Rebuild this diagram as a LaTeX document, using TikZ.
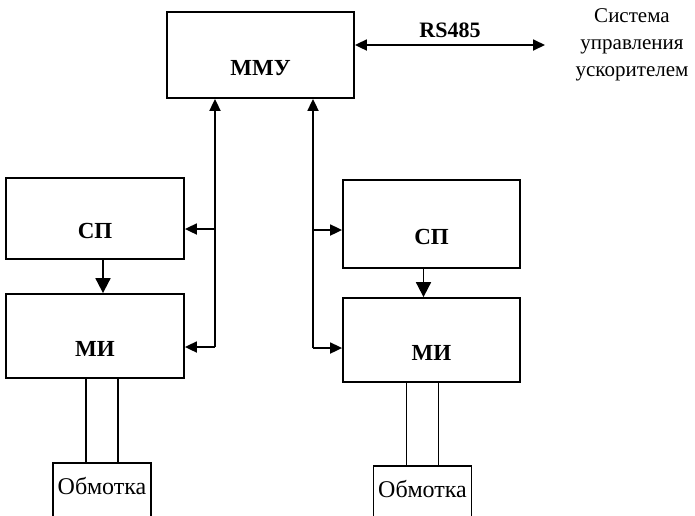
\documentclass[tikz,border=0pt]{standalone}
\usepackage{fontspec}
\setmainfont{Liberation Serif}
\usetikzlibrary{arrows.meta}

\tikzset{
  blk/.style={draw, line width=1.8pt, rectangle, font=\fontsize{23}{24}\selectfont\bfseries,
    text height=40pt, text depth=0pt},
  coil/.style={draw, line width=1.8pt, rectangle, minimum width=98pt, minimum height=60pt,
    font=\fontsize{24}{26}\selectfont, text depth=14pt},
  arr/.style={line width=1.8pt, -{Triangle[length=12pt,width=11pt]}},
  bigarr/.style={line width=1.8pt, -{Triangle[length=15pt,width=15pt]}},
  wire/.style={line width=1.8pt}
}

\begin{document}
\begin{tikzpicture}[x=1pt,y=1pt,yscale=-1]
        \useasboundingbox (0,0) rectangle (695,515);
        \clip (0,0) rectangle (695,515);

        %Shape: Rectangle [ММУ]
        \node[blk, minimum width=187pt, minimum height=86pt] (mmu) at (260.5,55) {ММУ};
        %Shape: Rectangle [left СП, МИ]
        \node[blk, minimum width=178pt, minimum height=81pt] (spl) at (95,218.5) {СП};
        \node[blk, minimum width=178pt, minimum height=84pt] (mil) at (95,336) {МИ};
        %Shape: Rectangle [right СП, МИ]
        \node[blk, minimum width=177pt, minimum height=88pt] (spr) at (431.5,224) {СП};
        \node[blk, minimum width=177pt, minimum height=84pt] (mir) at (431.5,340) {МИ};
        %Shape: Rectangle [coils]
        \node[coil] (coill) at (102,493) {Обмотка};
        \node[coil] (coilr) at (422.5,496) {Обмотка};

        % Text Node
        \node[align=center, font=\fontsize{21}{27}\selectfont] (systxt) at (632,45) {Система\\управления\\ускорителем};

        % RS485 link
        \coordinate (sys) at (545,45);
        \draw[arr, {Triangle[length=12pt,width=11pt]}-{Triangle[length=12pt,width=11pt]}] (mmu.east |- sys) -- (sys)
          node[midway, above=3pt, font=\fontsize{22}{24}\selectfont\bfseries] {RS485};

        % left bus
        \coordinate (lt) at (215,229);
        \coordinate (lb) at (215,347);
        \draw[arr] (lb) -- (lb |- mmu.south);
        \draw[arr] (lt) -- (lt -| spl.east);
        \draw[arr] (lb) -- (lb -| mil.east);
        % right bus
        \coordinate (rt) at (313,230);
        \coordinate (rb) at (313,348);
        \draw[arr] (rb) -- (rb |- mmu.south);
        \draw[arr] (rt) -- (rt -| spr.west);
        \draw[arr] (rb) -- (rb -| mir.west);

        % СП -> МИ
        \draw[bigarr] ([xshift=8pt]spl.south) -- ([xshift=8pt]spl.south |- mil.north);
        \draw[bigarr] ([xshift=-8pt]spr.south) -- ([xshift=-8pt]spr.south |- mir.north);

        % coil wires
        \foreach \c/\m in {coill/mil, coilr/mir}{
          \draw[wire] ([xshift=-16pt]\c.north) -- ([xshift=-16pt]\c.north |- \m.south);
          \draw[wire] ([xshift=16pt]\c.north) -- ([xshift=16pt]\c.north |- \m.south);
        }

\end{tikzpicture}
\end{document}
